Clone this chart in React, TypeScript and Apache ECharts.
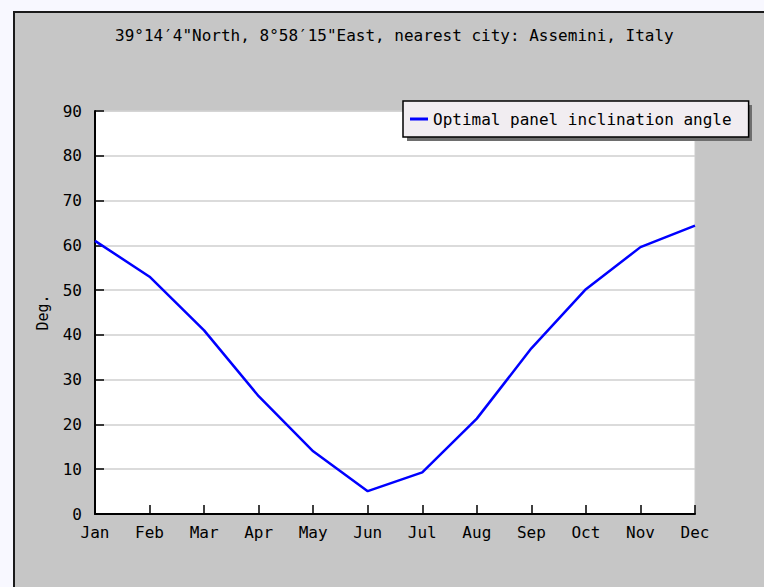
import React, { useEffect, useRef } from "react";
import * as echarts from "echarts";

const months = ["Jan", "Feb", "Mar", "Apr", "May", "Jun", "Jul", "Aug", "Sep", "Oct", "Nov", "Dec"];
const inclination = [61, 53, 41, 26.3, 14, 5.1, 9.3, 21.3, 37, 50.2, 59.6, 64.4];
const seriesName = "Optimal panel inclination angle";
const titleText = "39°14′4\"North, 8°58′15\"East, nearest city: Assemini, Italy";
const yAxisName = "Deg.";

const FONT = "DejaVu Sans Mono";

export default function App() {
  const ref = useRef<HTMLDivElement>(null);
  useEffect(() => {
    document.body.style.margin = "0";
    const chart = echarts.init(ref.current!, null, { renderer: "svg" });
    chart.setOption({
      animation: false,
      backgroundColor: "#f8f8ff",
      title: {
        text: titleText,
        left: 110,
        top: 22,
        textStyle: { fontFamily: FONT, fontSize: 16, fontWeight: "normal", color: "#000" },
      },
      graphic: [
        {
          type: "rect",
          z: -10,
          shape: { x: 14, y: 12, width: 760, height: 590 },
          style: { fill: "#c6c6c6", stroke: "#1a1a1a", lineWidth: 2 },
        },
        {
          type: "rect",
          z: 3,
          shape: { x: 407, y: 105, width: 345, height: 36 },
          style: { fill: "#6e6e6e" },
        },
      ],
      legend: {
        left: 403,
        top: 101,
        padding: [10, 17, 10, 7],
        backgroundColor: "#f1edf1",
        borderColor: "#000",
        borderWidth: 1.5,
        borderRadius: 0,
        itemWidth: 18,
        itemHeight: 3,
        data: [{ name: seriesName, icon: "rect" }],
        textStyle: { fontFamily: FONT, fontSize: 16, color: "#000" },
      },
      grid: {
        left: 95,
        top: 111,
        right: 69,
        bottom: 73,
        show: true,
        backgroundColor: "#ffffff",
        borderColor: "#cccccc",
        borderWidth: 1,
      },
      xAxis: {
        type: "category",
        boundaryGap: false,
        data: months,
        axisLine: { show: true, lineStyle: { color: "#000", width: 2 } },
        axisTick: { show: true, inside: true, length: 9, lineStyle: { color: "#000", width: 1.5 } },
        axisLabel: { color: "#000", fontFamily: FONT, fontSize: 16, margin: 10 },
        splitLine: { show: false },
      },
      yAxis: {
        type: "value",
        min: 0,
        max: 90,
        interval: 10,
        name: yAxisName,
        nameLocation: "middle",
        nameRotate: 90,
        nameGap: 45,
        nameTextStyle: { fontFamily: FONT, fontSize: 15, color: "#000" },
        axisLine: { show: true, lineStyle: { color: "#000", width: 2 } },
        axisTick: { show: true, inside: true, length: 9, lineStyle: { color: "#000", width: 1.5 } },
        axisLabel: { color: "#000", fontFamily: FONT, fontSize: 16, margin: 13 },
        splitLine: { show: true, lineStyle: { color: "#cfcfcf", width: 1.5 } },
      },
      series: [
        {
          name: seriesName,
          type: "line",
          data: inclination,
          symbol: "none",
          color: "#0000ff",
          lineStyle: { color: "#0000ff", width: 2.5 },
        },
      ],
    });
    return () => chart.dispose();
  }, []);
  return <div ref={ref} style={{ width: 764, height: 587 }} />;
}
